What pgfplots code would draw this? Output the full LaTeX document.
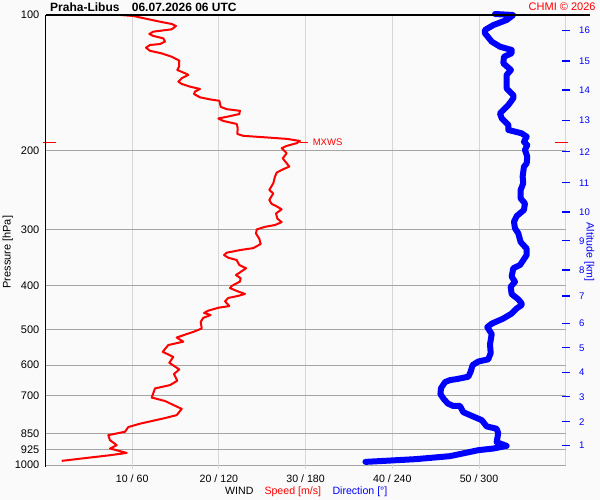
\documentclass[border=0pt]{standalone}
\usepackage{pgfplots}
\pgfplotsset{compat=1.18}
\usepackage{fontspec}
\setmainfont{Liberation Sans}
\definecolor{bgc}{RGB}{250,250,250}
\definecolor{vgrid}{RGB}{214,214,214}
\definecolor{hgrid}{RGB}{165,165,165}
\definecolor{chmired}{RGB}{255,0,0}
\definecolor{chmiblue}{RGB}{0,0,255}
\begin{document}
\begin{tikzpicture}[x=1bp,y=1bp]
\fill[bgc] (0,0) rectangle (600,500);
\useasboundingbox (0,0) rectangle (600,500);
\begin{axis}[at={(45.5bp,35bp)}, anchor=south west, scale only axis,
  width=520.2bp, height=450bp,
  xmin=0, xmax=60, ymode=log, y dir=reverse, ymin=100, ymax=1000,
  axis line style={draw=none},
  xtick={10,20,30,40,50,60},
  xticklabels={10 / 60,20 / 120,30 / 180,40 / 240,50 / 300,{}},
  ytick={100,200,300,400,500,600,700,850,925,1000},
  yticklabels={100,200,300,400,500,600,700,850,925,1000},
  xmajorgrids, ymajorgrids,
  x grid style={vgrid, line width=1bp},
  y grid style={hgrid, line width=1bp},
  major tick length=0pt, tick style={draw=none},
  xticklabel style={font=\fontsize{10.6bp}{12bp}\selectfont, anchor=north, inner sep=0pt, yshift=-10bp},
  yticklabel style={font=\fontsize{11bp}{13bp}\selectfont, anchor=east, inner sep=0pt, xshift=-6bp},
  clip=false]
\draw[vgrid, line width=1bp] (axis cs:10,1000) -- (axis cs:10,1020);
\draw[vgrid, line width=1bp] (axis cs:20,1000) -- (axis cs:20,1020);
\draw[vgrid, line width=1bp] (axis cs:30,1000) -- (axis cs:30,1020);
\draw[vgrid, line width=1bp] (axis cs:40,1000) -- (axis cs:40,1020);
\draw[vgrid, line width=1bp] (axis cs:50,1000) -- (axis cs:50,1020);
\addplot[chmired, line width=2bp, line join=round] coordinates {
(8.67,100) (10.13,100.5) (13.21,103.5) (14.56,104.7) (15.05,105.8) (14.56,107.6) (12.43,108.9) (11.97,110.2) (12.43,111.3) (13.59,112.7) (13.78,114.6) (13.21,116.0) (12.05,116.6) (11.59,118.2) (12.05,120.1) (13.40,121.7) (14.56,123.8) (15.43,126.3) (15.40,130.3) (15.20,132.5) (16.29,135.2) (16.47,135.9) (15.71,138.2) (15.32,140.6) (15.71,142.3) (16.67,144.3) (17.82,146.0) (17.24,148.0) (17.13,149.8) (17.82,152.4) (18.97,154.0) (20.05,155.1) (20.21,160.0) (20.90,161.9) (22.43,163.3) (22.35,166.0) (20.90,168.4) (19.93,169.8) (20.51,172.0) (22.05,174.6) (22.17,178.5) (22.12,183.8) (22.81,185.6) (25.12,186.9) (27.82,188.5) (29.35,190.5) (28.97,192.7) (27.82,195.4) (27.24,197.7) (27.82,202.9) (27.36,208.2) (28.12,217.2)
(27.43,220.1) (26.67,223.9) (26.47,228.6) (26.27,236.6) (25.81,244.8) (26.27,249.2) (25.81,257.7) (26.09,263.0) (26.59,265.7) (27.24,270.3) (26.59,276.0) (26.74,283.5) (27.24,288.6) (26.47,292.9) (25.32,295.6) (24.36,299.6) (24.28,306.0) (24.66,314.3) (24.82,322.8) (23.97,329.6) (22.43,333.0) (20.90,337.5) (20.59,341.5) (21.08,346.3) (22.05,350.3) (22.35,359.4) (23.13,365.4) (22.35,374.2) (21.97,378.3) (22.51,384.7) (22.43,391.2) (21.48,400) (21.28,404.5) (22.24,411.7) (23.01,416.7) (22.24,420.8) (21.08,425.4) (20.70,432.5) (21.20,443.4) (19.93,447.3) (18.78,453.9) (18.28,459.2) (19.05,464.2) (18.20,470.9) (17.90,480.8) (18.02,497.3) (17.05,506.0) (15.13,520.8) (15.89,532.0) (14.16,541.3) (13.52,560.4) (14.74,575.1) (14.28,592.7) (15.43,613.2) (14.82,627.9) (15.20,649.8) (14.36,664.4) (12.63,675.8) (12.25,708.1) (13.78,720.8) (15.71,750.6) (15.13,774.8) (13.59,788.1) (10.90,809.4) (9.55,823.4) (9.17,843.5) (7.24,858.4) (7.44,880.7) (8.21,903.6) (7.44,919.1) (9.37,940.0) (7.44,951.1) (1.87,978.9)
};
\draw[chmired, line width=1.3bp] (axis cs:-0.29,191.8) -- (axis cs:1.21,191.8);
\draw[chmired, line width=1.3bp] (axis cs:58.8,191.8) -- (axis cs:60.26,191.8);
\draw[chmired, line width=1bp] (axis cs:29.35,191.8) -- (axis cs:30.28,191.8)
  node[anchor=west, inner sep=0pt, xshift=4.3bp, font=\fontsize{9.5bp}{11bp}\selectfont]{MXWS};
\end{axis}
\begin{axis}[at={(45.5bp,35bp)}, anchor=south west, scale only axis,
  width=520.2bp, height=450bp,
  xmin=0, xmax=360, ymode=log, y dir=reverse, ymin=100, ymax=1000,
  axis line style={draw=none}, xtick=\empty,
  ytick={108.3,126.6,146.8,171.6,201.3,235.9,274.1,317.4,368.7,421.1,484.3,548.8,622.3,705.1,801.2,904.0},
  yticklabels={16,15,14,13,12,11,10,9,8,7,6,5,4,3,2,1},
  ytick pos=right, yticklabel pos=right, tick align=center, major tick length=8bp,
  tick style={chmiblue, line width=1.3bp},
  yticklabel style={font=\fontsize{9.6bp}{11bp}\selectfont, text=chmiblue, anchor=west, inner sep=0pt, xshift=9.3bp},
  clip=false]
\addplot[chmiblue, line width=6bp, line join=round, line cap=round] coordinates {
(311.1,99.5) (323.7,100) (319.1,102.6) (309.9,105.3) (304.1,108.0) (304.1,109.8) (308.8,114.6) (314.5,117.6) (322.6,119.6) (322.6,121.6) (317.3,123.8) (316.8,128.0) (322.1,132.5) (319.1,135.9) (319.1,145.6) (323.7,150.6) (323.7,153.2) (320.3,158.5) (314.5,165.4) (315.7,169.6) (320.3,175.5) (320.3,180.1) (329.5,183.2) (333.0,186.4) (331.1,191.5) (333.4,194.5) (331.8,199.5) (333.4,206.5) (333.0,213.6) (331.1,217.4) (330.2,228.6) (330.6,236.6) (328.8,244.8) (328.8,255.5) (331.8,262.3) (331.1,271.2) (326.1,279.7) (324.2,287.9) (324.9,297.9) (327.2,305.7) (328.8,319.5) (333.0,330.6) (333.0,341.5) (328.4,359.4) (323.7,365.5) (322.6,381.6) (324.9,391.6) (321.9,401.8) (322.6,417.0) (327.2,428.4) (329.5,437.3) (329.5,441.1) (326.1,448.8) (322.6,460.6) (316.8,472.7) (308.8,485.1) (305.7,493.9) (308.8,511.6) (307.6,539.3) (308.1,563.8) (306.4,582.4) (299.5,588.9) (295.6,599.7) (294.2,620.5) (292.6,636.6) (284.6,644.3) (279.9,647.6) (276.5,654.3) (273.7,675.0) (273.3,696.0) (275.8,714.6) (278.5,730.4) (282.0,739.0) (286.8,739.0) (289.1,763.1) (293.8,774.8) (301.9,794.9) (305.3,820.8) (312.2,830.6) (313.3,849.9) (312.2,889.8) (319.1,906.8) (309.9,919.1) (299.5,927.0) (279.9,955.7) (256.0,970.5) (234.7,978.9) (221.4,984.1)
};
\end{axis}
\draw[black, line width=1.2bp] (45.5,485) -- (590,485);
\draw[black, line width=1.2bp] (45.5,485) -- (45.5,33);
\node[anchor=base west, inner sep=0pt, font=\bfseries\fontsize{12bp}{14bp}\selectfont] at (50,488.3) {Praha-Libus};
\node[anchor=base west, inner sep=0pt, font=\bfseries\fontsize{12bp}{14bp}\selectfont] at (131.7,488.3) {06.07.2026 06 UTC};
\node[anchor=base east, inner sep=0pt, text=chmired, font=\fontsize{11bp}{13bp}\selectfont] at (595.7,489.7) {CHMI © 2026};
\node[rotate=90, inner sep=0pt, font=\fontsize{11bp}{13bp}\selectfont] at (7.7,247.8) {Pressure [hPa]};
\node[rotate=-90, inner sep=0pt, text=chmiblue, font=\fontsize{10.6bp}{12bp}\selectfont] at (589.3,248) {Altitude [km]};
\node[anchor=base west, inner sep=0pt, font=\fontsize{10.6bp}{12bp}\selectfont] at (225,5.7) {WIND};
\node[anchor=base west, inner sep=0pt, text=chmired, font=\fontsize{10.6bp}{12bp}\selectfont] at (264.3,5.7) {Speed [m/s]};
\node[anchor=base west, inner sep=0pt, text=chmiblue, font=\fontsize{10.6bp}{12bp}\selectfont] at (332.3,5.7) {Direction [°]};
\end{tikzpicture}
\end{document}
